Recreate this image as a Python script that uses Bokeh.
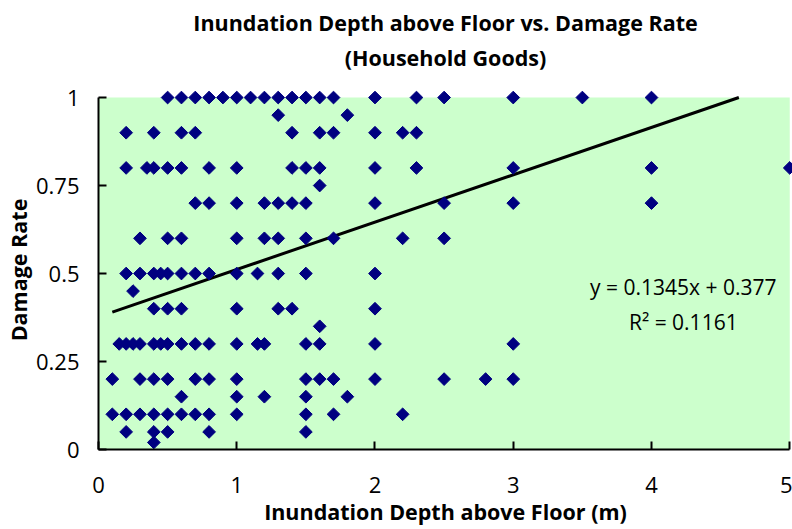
import numpy as np
from bokeh.plotting import figure
from bokeh.models import Range1d, BoxAnnotation, FixedTicker, ColumnDataSource, Title
from bokeh.core.properties import value
from bokeh.embed import file_html
from bokeh.resources import INLINE

# Inundation depths (m) observed at each damage-rate level
depth_rate_100 = [0.5, 0.6, 0.7, 0.8, 0.9, 1.0, 1.1, 1.2, 1.3, 1.4, 1.5, 1.6, 1.7, 2.0, 2.3, 2.5, 3.0, 3.5, 4.0]
depth_rate_095 = [1.3, 1.8]
depth_rate_090 = [0.2, 0.4, 0.6, 0.7, 1.4, 1.6, 1.7, 2.0, 2.2, 2.3]
depth_rate_080 = [0.2, 0.35, 0.4, 0.5, 0.6, 0.8, 1.0, 1.4, 1.5, 1.6, 2.0, 2.3, 3.0, 4.0, 5.0]
depth_rate_075 = [1.6]
depth_rate_070 = [0.7, 0.8, 1.0, 1.2, 1.3, 1.4, 1.5, 2.0, 2.5, 3.0, 4.0]
depth_rate_060 = [0.3, 0.5, 0.6, 1.0, 1.2, 1.3, 1.5, 1.7, 2.2, 2.5]
depth_rate_050 = [0.2, 0.3, 0.4, 0.45, 0.5, 0.6, 0.7, 0.8, 1.0, 1.15, 1.3, 1.5, 2.0]
depth_rate_045 = [0.25]
depth_rate_040 = [0.4, 0.5, 0.6, 1.0, 1.3, 1.4, 2.0]
depth_rate_035 = [1.6]
depth_rate_030 = [0.15, 0.2, 0.25, 0.3, 0.4, 0.45, 0.5, 0.6, 0.7, 0.8, 1.0, 1.15, 1.2, 1.5, 1.6, 2.0, 3.0]
depth_rate_020 = [0.1, 0.3, 0.4, 0.5, 0.7, 0.8, 1.0, 1.5, 1.6, 1.7, 2.0, 2.5, 2.8, 3.0]
depth_rate_015 = [0.6, 1.0, 1.2, 1.5, 1.8]
depth_rate_010 = [0.1, 0.2, 0.3, 0.4, 0.5, 0.6, 0.7, 0.8, 1.0, 1.5, 1.7, 2.2]
depth_rate_005 = [0.2, 0.4, 0.5, 0.8, 1.5]
depth_rate_002 = [0.4]

damage_levels = [1.0, 0.95, 0.9, 0.8, 0.75, 0.7, 0.6, 0.5, 0.45, 0.4, 0.35, 0.3, 0.2, 0.15, 0.1, 0.05, 0.02]
depth_groups = [depth_rate_100, depth_rate_095, depth_rate_090, depth_rate_080, depth_rate_075,
                depth_rate_070, depth_rate_060, depth_rate_050, depth_rate_045, depth_rate_040,
                depth_rate_035, depth_rate_030, depth_rate_020, depth_rate_015, depth_rate_010,
                depth_rate_005, depth_rate_002]

# Linear trendline shown on the chart
trend_slope = 0.1345
trend_intercept = 0.377
trend_label = "y = 0.1345x + 0.377"
r2_label = "R\u00b2 = 0.1161"

title_line1 = "Inundation Depth above Floor vs. Damage Rate"
title_line2 = "(Household Goods)"

y_ticks = [0, 0.25, 0.5, 0.75, 1]
y_tick_labels = ["0", "0.25", "0.5", "0.75", "1"]
x_ticks = [0, 1, 2, 3, 4, 5]

xs, ys = [], []
for lvl, grp in zip(damage_levels, depth_groups):
    xs.extend(grp)
    ys.extend([lvl] * len(grp))
src = ColumnDataSource(dict(x=xs, y=ys))

FONT = "Open Sans"

p = figure(width=792, height=529, output_backend="svg", toolbar_location=None,
           x_range=Range1d(0, 5.02), y_range=Range1d(0, 1.02),
           min_border_left=97, min_border_right=0, min_border_top=90, min_border_bottom=80)
p.title.visible = False
# the line added first sits closest to the plot
p.add_layout(Title(text=title_line2, align="center", text_font=FONT, text_font_size="21.5px",
                   text_font_style="bold", text_color="black", standoff=38), "above")
p.add_layout(Title(text=title_line1, align="center", text_font=FONT, text_font_size="21.5px",
                   text_font_style="bold", text_color="black", standoff=-30), "above")
p.outline_line_color = None
p.background_fill_color = "white"
p.border_fill_color = "white"
p.grid.visible = False

p.add_layout(BoxAnnotation(left=0, right=5, bottom=0, top=1, fill_color="#CCFFCC",
                           fill_alpha=1, line_color=None, level="underlay"))

for ax in (p.xaxis[0], p.yaxis[0]):
    ax.axis_line_width = 2
    ax.axis_line_color = "black"
    ax.major_tick_in = 8
    ax.major_tick_out = 0
    ax.major_tick_line_width = 2
    ax.minor_tick_line_color = None
    ax.major_label_text_font = FONT
    ax.major_label_text_font_size = "22px"
    ax.major_label_text_color = "black"
    ax.axis_label_text_font = FONT
    ax.axis_label_text_font_size = "21.5px"
    ax.axis_label_text_font_style = "bold"
    ax.axis_label_text_color = "black"

p.xaxis[0].ticker = FixedTicker(ticks=x_ticks)
p.xaxis[0].bounds = (0, 5)
p.xaxis[0].major_label_standoff = 27
p.xaxis[0].axis_label = "Inundation Depth above Floor (m)"
p.xaxis[0].axis_label_standoff = 1

p.yaxis[0].ticker = FixedTicker(ticks=y_ticks)
p.yaxis[0].major_label_overrides = {t: l for t, l in zip(y_ticks, y_tick_labels)}
p.yaxis[0].bounds = (0, 1)
p.yaxis[0].major_label_standoff = 19
p.yaxis[0].axis_label = "Damage Rate"
p.yaxis[0].axis_label_standoff = 0

# trendline from smallest depth until it reaches the top of the axis
x0 = min(xs)
x1 = min(max(xs), (1 - trend_intercept) / trend_slope)
p.line([x0, x1], [trend_slope * x0 + trend_intercept, trend_slope * x1 + trend_intercept],
       line_color="black", line_width=3)

p.scatter("x", "y", source=src, marker="square", size=9, angle=np.pi / 4,
          fill_color="#000080", line_color="#000080")

p.text(x=[4.23, 4.23], y=[0.463, 0.361], text=[trend_label, r2_label],
       text_font=value(FONT), text_font_size="21px", text_align="center",
       text_baseline="middle", text_color="black")

open("out.html", "w").write(file_html(p, INLINE))
